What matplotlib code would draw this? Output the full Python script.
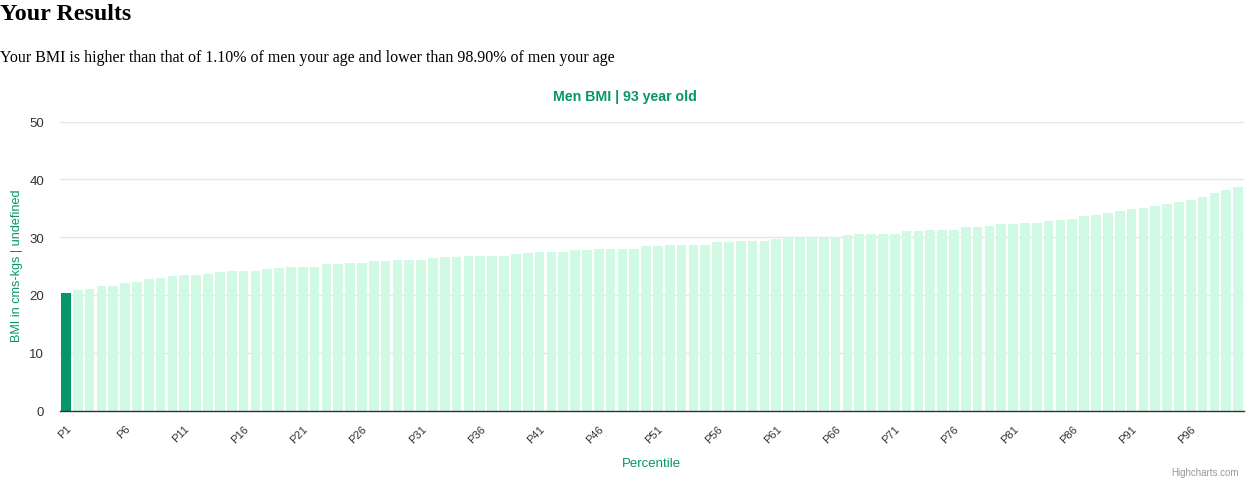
import matplotlib
matplotlib.use("Agg")
import matplotlib.pyplot as plt

percentiles = [f"P{i}" for i in range(1, 101)]
bmi_values = [
    20.4, 20.8, 21.1, 21.5, 21.6, 22.0, 22.3, 22.7, 22.9, 23.2,
    23.4, 23.5, 23.7, 23.9, 24.1, 24.1, 24.2, 24.4, 24.6, 24.8,
    24.9, 24.9, 25.3, 25.3, 25.5, 25.6, 25.8, 25.8, 26.0, 26.1,
    26.1, 26.3, 26.5, 26.5, 26.7, 26.7, 26.8, 26.8, 27.0, 27.2,
    27.4, 27.4, 27.5, 27.7, 27.7, 27.9, 27.9, 28.0, 28.0, 28.4,
    28.4, 28.6, 28.6, 28.7, 28.7, 29.1, 29.1, 29.3, 29.3, 29.4,
    29.6, 29.8, 29.8, 29.9, 29.9, 30.1, 30.3, 30.5, 30.5, 30.6,
    30.6, 31.0, 31.0, 31.2, 31.2, 31.3, 31.7, 31.7, 31.9, 32.2,
    32.2, 32.4, 32.5, 32.7, 32.9, 33.2, 33.6, 33.8, 34.1, 34.5,
    34.8, 35.0, 35.3, 35.7, 36.0, 36.5, 37.0, 37.6, 38.1, 38.6,
]
highlight_index = 0
y_ticks = [0, 10, 20, 30, 40, 50]

title_text = "Your Results"
subtitle_text = "Your BMI is higher than that of 1.10% of men your age and lower than 98.90% of men your age"
chart_title = "Men BMI | 93 year old"
y_label = "BMI in cms-kgs | undefined"
x_label = "Percentile"
credits = "Highcharts.com"

GREEN = "#059669"
LIGHT = "#d1fae5"

W, H = 1249, 481
fig = plt.figure(figsize=(W / 100, H / 100), dpi=100)

ax = fig.add_axes([60 / W, (H - 411.5) / H, (1244 - 60) / W, (411.5 - 122.5) / H])
x = list(range(len(bmi_values)))
colors = [GREEN if i == highlight_index else LIGHT for i in x]
ax.bar(x, bmi_values, width=0.82, color=colors, linewidth=0, zorder=2)

ax.set_xlim(-0.5, len(bmi_values) - 0.5)
ax.set_ylim(0, 50)
ax.set_yticks(y_ticks)
ax.set_yticklabels([str(t) for t in y_ticks], fontsize=9.5, color="#333333",
                   family="Liberation Sans")
ax.tick_params(axis="y", length=0, pad=11.5)
ax.grid(axis="y", color="#e6e6e6", linewidth=1, zorder=0)
ax.set_axisbelow(True)
for s in ["top", "right", "left"]:
    ax.spines[s].set_visible(False)
ax.spines["bottom"].set_color("#333333")
ax.spines["bottom"].set_linewidth(1)
ax.spines["bottom"].set_zorder(3)

tick_pos = list(range(0, len(bmi_values), 5))
ax.set_xticks(tick_pos)
ax.set_xticklabels([percentiles[i] for i in tick_pos], rotation=45, ha="right",
                   va="top", rotation_mode="anchor", fontsize=8,
                   color="#333333", family="Liberation Sans")
ax.tick_params(axis="x", length=0, pad=9)

fig.text(0 / W, 1 - 15 / H, title_text, fontsize=17.3, fontweight="bold",
         family="Liberation Serif", va="center", ha="left")
fig.text(0 / W, 1 - 57.5 / H, subtitle_text, fontsize=11.55, family="Liberation Serif",
         va="center", ha="left")
fig.text(625 / W, 1 - 97 / H, chart_title, fontsize=10.2, fontweight="bold",
         color=GREEN, family="Liberation Sans", ha="center", va="center")
fig.text(17 / W, 1 - 266 / H, y_label, fontsize=9.1, color=GREEN,
         family="Liberation Sans", rotation=90, ha="center", va="center")
fig.text(651 / W, 1 - 464 / H, x_label, fontsize=9.5, color=GREEN,
         family="Liberation Sans", ha="center", va="center")
fig.text(1239 / W, 1 - 473 / H, credits, fontsize=7, color="#999999",
         family="Liberation Sans", ha="right", va="center")

fig.savefig("out.png", dpi=100)
